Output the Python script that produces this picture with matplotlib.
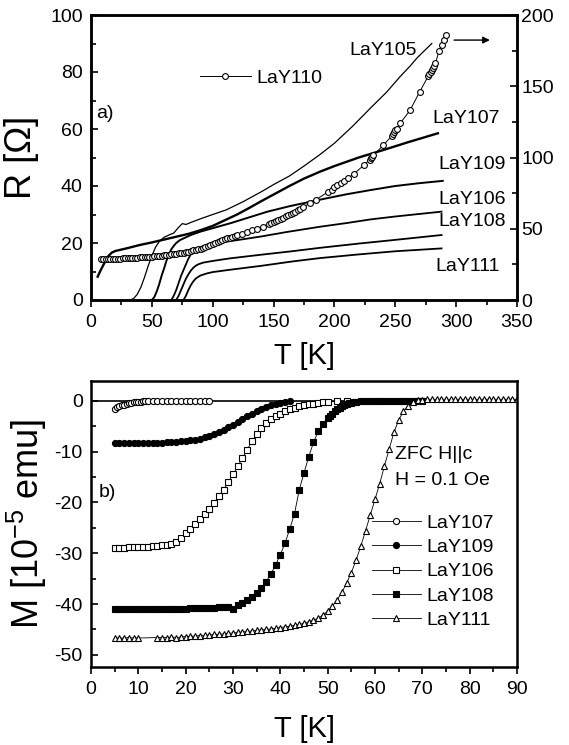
import matplotlib
matplotlib.use("Agg")
import matplotlib.pyplot as plt
from matplotlib.ticker import MultipleLocator

plt.rcParams["font.family"] = ["Liberation Sans", "DejaVu Sans"]
plt.rcParams["mathtext.fontset"] = "custom"
plt.rcParams["mathtext.rm"] = "Liberation Sans"
plt.rcParams["axes.unicode_minus"] = False

# ---- panel a): resistance vs T (left axis) ----
t105 = [32, 35, 38, 41, 44, 47, 50, 53, 56, 60, 64, 68, 72, 75, 78, 82, 90, 100, 111, 125,
        140, 150, 163, 175, 188, 200, 215, 230, 243, 254, 262, 268, 274, 280]
r105 = [0, 0.5, 2, 4.5, 8, 12, 15.5, 18.5, 20.5, 22, 22.8, 23.5, 25.5, 26.8, 26.5, 27.2, 28.5, 30, 31.6, 34.5,
        38, 40.5, 43.5, 47, 51, 55, 61, 67.5, 73, 78.4, 82, 85, 87.5, 90]

t107 = [5.5, 8, 11, 14, 17, 20, 25, 30, 40, 50, 60, 70, 80, 90, 100, 110, 120, 130, 140, 150,
        163, 175, 188, 200, 220, 240, 260, 285]
r107 = [8.2, 10.5, 13, 15.3, 16.6, 17.2, 17.7, 18.2, 19.3, 20.2, 21.2, 22.2, 23.2, 24.5, 26.0, 28.0, 30.0, 32.3, 34.7, 37.0,
        40, 42.6, 45, 47, 50, 52.6, 55.3, 58.5]

t109 = [50, 52, 54, 56, 58, 60, 62, 64, 66, 68, 70, 73, 77, 82, 90, 100, 115, 130, 145, 163,
        188, 210, 230, 250, 270, 289]
r109 = [0, 1, 3, 5.5, 8.5, 11, 13.8, 16, 17.8, 19, 20, 21, 21.8, 22.8, 24, 25.2, 27, 29, 31, 32.9,
        35.2, 37.1, 38.6, 40, 41, 41.8]

t106 = [66, 68, 70, 72, 74, 76, 78, 80, 82, 85, 90, 100, 120, 140, 160, 188, 210, 230, 250, 270, 288]
r106 = [0, 1.5, 3.5, 6, 8.5, 10.5, 12.5, 14.5, 16, 17.5, 18.5, 19.8, 21, 22.3, 23.8, 25.7, 27, 28.3, 29.3, 30.2, 31]

t108 = [70, 72, 74, 76, 78, 80, 82, 84, 86, 88, 92, 100, 114, 140, 165, 188, 220, 250, 288]
r108 = [0, 1.5, 3.5, 5.5, 7.5, 9, 10.3, 11.3, 12.0, 12.5, 13.1, 13.7, 14.6, 15.9, 17.1, 18.3, 19.8, 21.1, 22.8]

t111 = [76, 78, 80, 82, 84, 86, 88, 90, 95, 100, 114, 140, 165, 188, 220, 250, 288]
r111 = [0, 1.5, 3.5, 5.2, 6.5, 7.5, 8.1, 8.6, 9.3, 9.8, 10.6, 12.0, 13.5, 14.7, 16.0, 17.1, 18.1]

# LaY110 on the right axis
t110 = [8, 10, 12, 14, 16, 18, 20, 22, 24, 26, 28, 30, 32, 34, 36, 38, 40, 42, 44, 46,
        48, 50, 52, 54, 56, 58, 60, 62, 64, 66, 68, 70, 72, 74, 76, 78, 80, 82, 84, 86,
        88, 90, 92, 94, 96, 98, 100, 102, 104, 106, 108, 110, 112, 114, 116, 118, 120, 124, 128, 132,
        136, 141, 146, 148, 150, 152, 154, 156, 158, 160, 162, 164, 166, 168, 170, 172, 174, 180, 185, 195,
        198, 200, 202, 205, 208, 211, 216, 224, 229, 230, 231, 232, 240, 247, 248, 249, 250, 251, 254, 262,
        270, 277, 278, 279, 280, 281, 282, 283, 286, 288, 290, 292]
r110 = [28.6, 28.5, 28.6, 28.7, 28.8, 28.9, 29.0, 29.0, 29.1, 29.2, 29.3, 29.4, 29.5, 29.6, 29.7, 29.8, 29.9, 30.0, 30.1, 30.2,
        30.4, 30.5, 30.7, 30.9, 31.0, 31.2, 31.4, 31.6, 31.8, 32.0, 32.2, 32.4, 32.7, 33.0, 33.3, 33.6, 34.0, 34.4, 34.8, 35.2,
        35.6, 36.0, 36.6, 37.2, 37.8, 38.4, 39.0, 39.8, 40.6, 41.4, 42.0, 42.6, 43.2, 43.8, 44.4, 45.0, 45.5, 46.5, 47.5, 48.8,
        50.0, 51.5, 53.5, 54.2, 55.0, 55.6, 56.3, 57.0, 57.8, 58.6, 59.4, 60.2, 61.0, 62.0, 63.0, 64.0, 65.0, 68.0, 70.5, 76.0,
        77.5, 79.0, 80.5, 82.0, 83.5, 85.5, 88.5, 94.5, 98.5, 99.5, 100.5, 101.5, 108.5, 115, 116.5, 118, 119, 120, 124, 133,
        146, 157, 158.5, 160, 161.5, 163, 164.5, 166, 175, 179, 182.5, 186]

# ---- panel b): ZFC magnetization ----
tm107 = [5, 5.5, 6, 6.5, 7, 7.5, 8, 8.5, 9, 9.5, 10, 10.5, 11, 11.5, 12, 13, 14, 15, 16, 17,
         18, 19, 20, 21, 22, 23, 24, 25]
m107 = [-1.6, -1.3, -1.1, -0.9, -0.75, -0.6, -0.5, -0.4, -0.32, -0.25, -0.2, -0.15, -0.12, -0.1, -0.08, -0.06, -0.05, -0.04, -0.03, -0.03,
        -0.02, -0.02, -0.02, -0.01, -0.01, -0.01, 0, 0]

tm109 = [5, 6, 7, 8, 9, 10, 11, 12, 13, 14, 15, 16, 17, 18, 19, 20, 21, 22, 23, 24,
         25, 26, 27, 28, 29, 30, 31, 32, 33, 34, 35, 36, 37, 38, 39, 40, 41, 42]
m109 = [-8.4, -8.4, -8.4, -8.4, -8.4, -8.4, -8.4, -8.35, -8.3, -8.3, -8.25, -8.2, -8.15, -8.1, -8.0, -7.9, -7.8, -7.65, -7.45, -7.2,
        -6.9, -6.55, -6.15, -5.7, -5.25, -4.8, -4.2, -3.6, -3.0, -2.5, -2.0, -1.55, -1.2, -0.85, -0.6, -0.35, -0.2, -0.1]

tm106 = [5, 6, 7, 8, 9, 10, 11, 12, 13, 14, 15, 16, 17, 18, 19, 20, 21, 22, 23, 24,
         25, 26, 27, 28, 29, 30, 31, 32, 33, 34, 35, 36, 37, 38, 39, 40, 41, 42, 43, 44,
         45, 46, 47, 48, 49, 50, 52, 54]
m106 = [-28.9, -28.9, -28.9, -28.8, -28.8, -28.8, -28.7, -28.7, -28.6, -28.5, -28.4, -28.3, -28.1, -27.8, -27.0, -26.1, -25.2, -24.3, -23.3, -22.3,
        -21.3, -20.1, -18.8, -17.5, -16.0, -14.5, -12.9, -11.3, -9.6, -8.0, -6.6, -5.4, -4.4, -3.6, -3.0, -2.5, -2.0, -1.7, -1.4, -1.1,
        -0.9, -0.7, -0.55, -0.4, -0.3, -0.2, -0.1, -0.05]

tm108 = [5, 6, 7, 8, 9, 10, 11, 12, 13, 14, 15, 16, 17, 18, 19, 20, 21, 22, 23, 24,
         25, 26, 27, 28, 29, 30, 31, 32, 33, 34, 35, 36, 37, 38, 39, 40, 41, 42, 43, 44,
         45, 46, 47, 48, 49, 50, 50.5, 51, 51.5, 52, 52.5, 53, 53.5, 54, 54.5, 55, 55.5, 56, 57, 58,
         59, 60, 61, 62, 63, 64, 65, 66, 67, 68, 69, 70]
m108 = [-41.0, -41.0, -41.0, -41.0, -41.0, -41.0, -41.0, -41.0, -41.0, -41.0, -40.95, -40.95, -40.9, -40.9, -40.9, -40.9, -40.85, -40.8, -40.8, -40.75,
        -40.7, -40.7, -40.65, -40.6, -40.5, -41.0, -40.2, -39.8, -39.3, -38.6, -37.8, -36.8, -35.6, -34.1, -32.3, -30.3, -28.0, -25.2, -22.2, -17.5,
        -14.2, -11.0, -8.2, -6.0, -4.5, -3.4, -2.9, -2.5, -2.1, -1.7, -1.4, -1.1, -0.9, -0.7, -0.5, -0.35, -0.25, -0.15, -0.05, 0,
        0, 0, 0, 0, 0, 0, 0, 0, 0, 0, 0, 0]

tm111 = [5, 6, 7, 8, 9, 10, 14, 15, 16, 17, 18, 19, 20, 21, 22, 23, 24, 25, 26, 27,
         28, 29, 30, 31, 32, 33, 34, 35, 36, 37, 38, 39, 40, 41, 42, 43, 44, 45, 46, 47,
         48, 49, 50, 51, 52, 53, 54, 55, 56, 57, 58, 59, 60, 61, 62, 63, 64, 65, 66, 67,
         68, 69, 70, 71, 72, 73, 74, 75, 76, 77, 78, 79, 80, 81, 82, 83, 84, 85, 86, 87,
         88, 89, 90]
m111 = [-46.7, -46.7, -46.7, -46.6, -46.7, -46.7, -46.6, -46.6, -46.6, -46.5, -46.6, -46.5, -46.4, -46.35, -46.3, -46.2, -46.15, -46.1, -46.0, -45.95,
        -45.9, -45.8, -45.7, -45.6, -45.5, -45.4, -45.3, -45.2, -45.1, -45.0, -44.9, -44.8, -44.65, -44.5, -44.35, -44.2, -44.0, -43.8, -43.5, -43.2,
        -42.8, -42.2, -41.4, -40.4, -39.2, -37.7, -35.9, -33.8, -31.4, -28.6, -25.6, -22.5, -19.4, -16.3, -12.8, -9.5, -6.2, -3.8, -2.1, -1.0,
        -0.3, 0.1, 0.2, 0.3, 0.3, 0.3, 0.3, 0.3, 0.3, 0.3, 0.3, 0.3, 0.3, 0.3, 0.3, 0.3, 0.3, 0.3, 0.3, 0.3,
        0.3, 0.3, 0.3]


def style_axis(ax):
    for sp in ax.spines.values():
        sp.set_linewidth(1.8)
    ax.tick_params(axis="x", which="both", direction="out", top=False, labelsize=14, width=1.2, pad=5)
    ax.tick_params(axis="x", which="major", length=5)
    ax.tick_params(axis="x", which="minor", length=3.5)
    ax.tick_params(axis="y", which="both", direction="in", right=False, labelsize=14, width=1.2, pad=6)
    ax.tick_params(axis="y", which="major", length=5)
    ax.tick_params(axis="y", which="minor", length=3.5)


fig = plt.figure(figsize=(5.69, 7.45), dpi=100)

# ---------- top panel ----------
ax1 = fig.add_axes([91 / 569, 1 - 300 / 745, 426 / 569, 285 / 745])
ax1.plot(t105, r105, color="k", lw=0.9)
ax1.plot(t107, r107, color="k", lw=1.7)
ax1.plot(t109, r109, color="k", lw=1.4)
ax1.plot(t106, r106, color="k", lw=1.3)
ax1.plot(t108, r108, color="k", lw=1.3)
ax1.plot(t111, r111, color="k", lw=1.3)
ax1.set_xlim(0, 350)
ax1.set_ylim(0, 100)
ax1.xaxis.set_major_locator(MultipleLocator(50))
ax1.xaxis.set_minor_locator(MultipleLocator(25))
ax1.yaxis.set_major_locator(MultipleLocator(20))
ax1.yaxis.set_minor_locator(MultipleLocator(10))
style_axis(ax1)
ax1.set_xlabel("T [K]", fontsize=21, labelpad=8)
ax1.set_ylabel("R [Ω]", fontsize=26, labelpad=8)

ax2 = ax1.twinx()
ax2.plot(t110, r110, color="k", lw=0.7, marker="o", ms=4.2, mfc="white", mec="k", mew=0.8, label="LaY110")
ax2.set_ylim(0, 200)
ax2.yaxis.set_major_locator(MultipleLocator(50))
ax2.yaxis.set_minor_locator(MultipleLocator(25))
for sp in ax2.spines.values():
    sp.set_linewidth(1.8)
ax2.tick_params(axis="y", which="both", direction="in", labelsize=14, width=1.2, pad=3)
ax2.tick_params(axis="y", which="major", length=5)
ax2.tick_params(axis="y", which="minor", length=3.5)
ax2.legend(loc="upper left", bbox_to_anchor=(0.256, 0.81), frameon=False, fontsize=14,
           handlelength=2.6, handletextpad=0.3, borderpad=0, borderaxespad=0)

ax1.text(4, 65.6, "a)", fontsize=14, va="center", ha="left")
ax1.text(268, 87.7, "LaY105", fontsize=14, va="center", ha="right")
ax1.text(336, 63.8, "LaY107", fontsize=14, va="center", ha="right")
ax1.text(341, 47.7, "LaY109", fontsize=14, va="center", ha="right")
ax1.text(341, 35.4, "LaY106", fontsize=14, va="center", ha="right")
ax1.text(341, 27.5, "LaY108", fontsize=14, va="center", ha="right")
ax1.text(336, 11.7, "LaY111", fontsize=14, va="center", ha="right")
ax1.annotate("", xy=(330, 91.2), xytext=(296, 91.2),
             arrowprops=dict(arrowstyle="-|>", color="k", lw=1.0, mutation_scale=10))

# ---------- bottom panel ----------
ax3 = fig.add_axes([91 / 569, 1 - 667 / 745, 426 / 569, 286 / 745])
ax3.axhline(0, color="k", lw=1.2, zorder=1)
mk = dict(color="k", lw=0.6, ms=4.4, mec="k", mew=0.8)
ax3.plot(tm107, m107, marker="o", mfc="white", label="LaY107", **mk)
ax3.plot(tm109, m109, marker="o", mfc="k", label="LaY109", **mk)
ax3.plot(tm106, m106, marker="s", mfc="white", label="LaY106", **mk)
ax3.plot(tm108, m108, marker="s", mfc="k", label="LaY108", **mk)
ax3.plot(tm111, m111, marker="^", mfc="white", label="LaY111", **mk)
ax3.set_xlim(0, 90)
ax3.set_ylim(-52.4, 3.9)
ax3.xaxis.set_major_locator(MultipleLocator(10))
ax3.xaxis.set_minor_locator(MultipleLocator(5))
ax3.yaxis.set_major_locator(MultipleLocator(10))
ax3.yaxis.set_minor_locator(MultipleLocator(5))
style_axis(ax3)
ax3.set_xlabel("T [K]", fontsize=21, labelpad=12)
ax3.set_ylabel("M [10$^{-5}$ emu]", fontsize=26, labelpad=4)

ax3.text(1.7, -18.1, "b)", fontsize=14, va="center", ha="left")
ax3.text(64.2, -10.6, "ZFC H||c", fontsize=14, va="center", ha="left")
ax3.text(64.2, -15.6, "H = 0.1 Oe", fontsize=14, va="center", ha="left")
ax3.legend(loc="upper left", bbox_to_anchor=(0.66, 0.535), frameon=False, fontsize=14,
           handlelength=2.5, handletextpad=0.3, labelspacing=0.35, borderpad=0, borderaxespad=0)

fig.savefig("out.png", dpi=100)
